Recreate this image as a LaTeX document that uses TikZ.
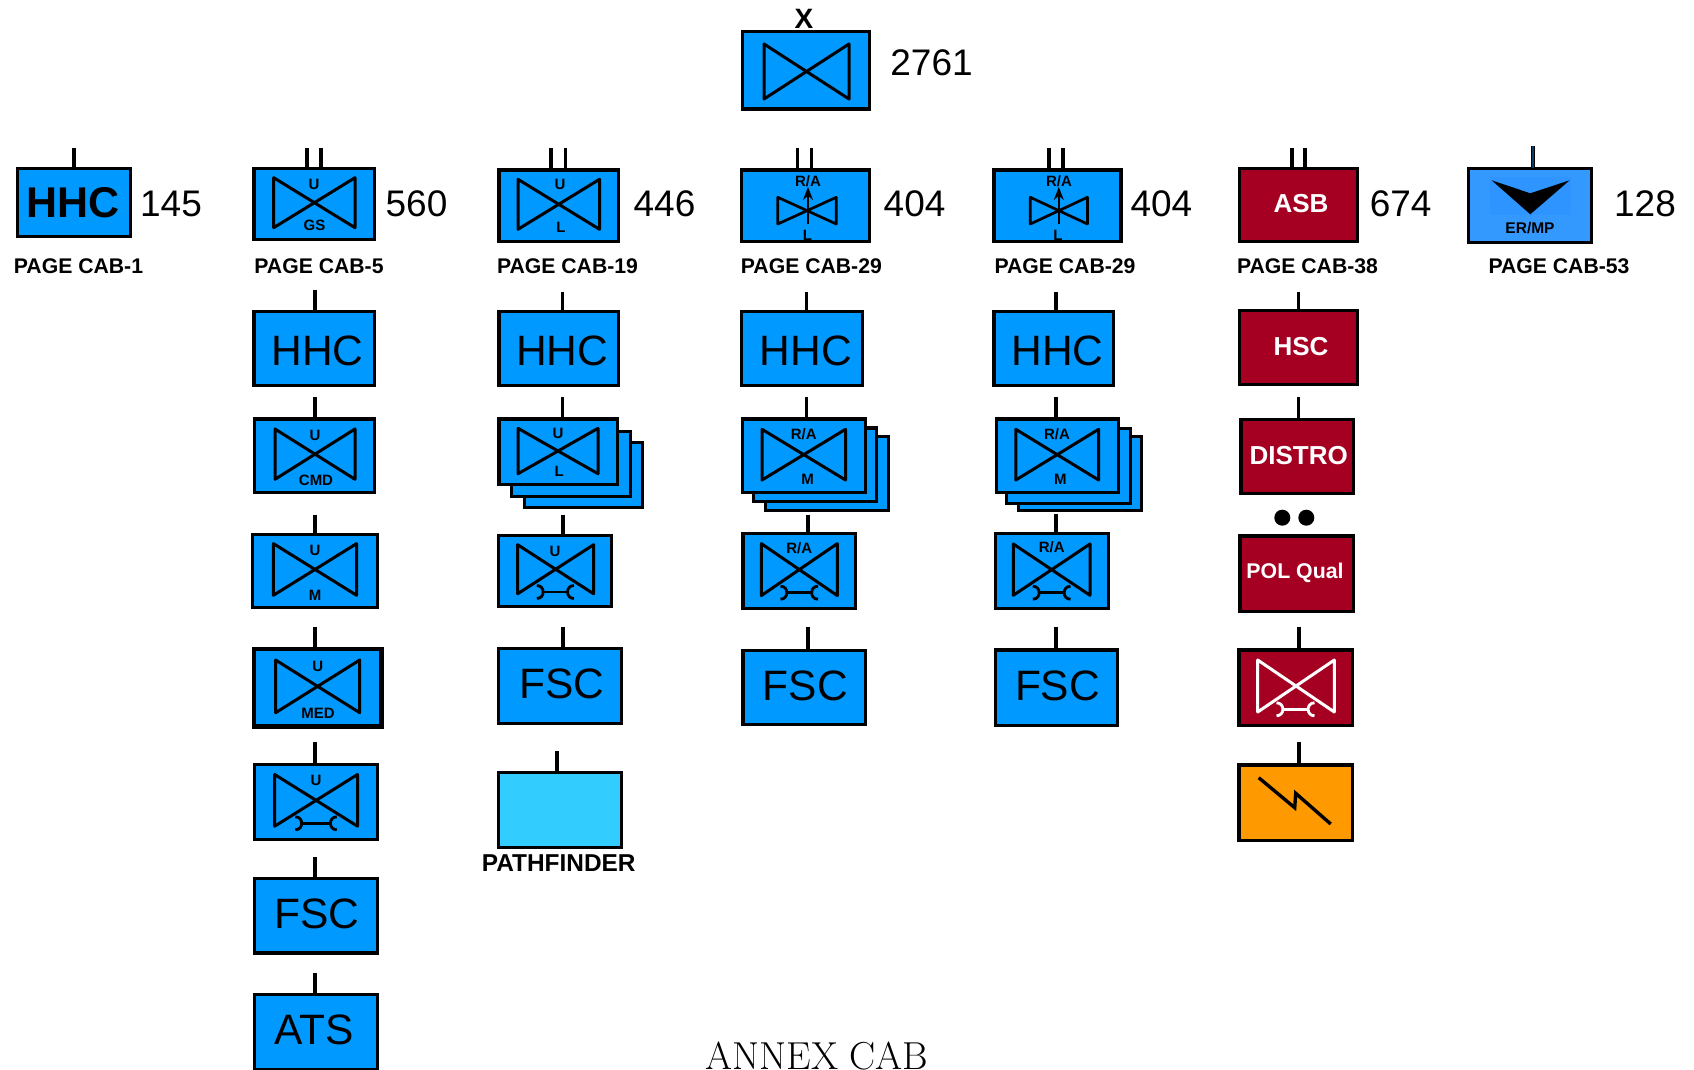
\documentclass[tikz,border=0pt]{standalone}
\usepackage{fontspec}
\setsansfont{Liberation Sans}
\usetikzlibrary{arrows.meta,calc}
\definecolor{ublue}{HTML}{0099FF}
\definecolor{ulight}{HTML}{33CCFF}
\definecolor{ured}{HTML}{A50021}
\definecolor{uorange}{HTML}{FF9900}
\definecolor{uer}{HTML}{3399FF}
\definecolor{uerin}{HTML}{2E94FF}
\definecolor{utick}{HTML}{0F3A66}
\newcount\lblc
\newcommand{\lbl}[3]{\global\advance\lblc by 1\relax\node[txt,#1] (txt\the\lblc) at (#2) {#3};}
% name, style, x1, x2, y1, y2 (outer edges)
\newcommand{\ubox}[6]{%
  \node[ubase,#2,minimum width={(#4)-(#3)-3.2pt},minimum height={(#6)-(#5)+1-3.2pt}] (#1) at ({((#3)+(#4)-0.6)/2},{((#5)+(#6)-1)/2}) {};}
% name, x, ytop, target box
\newcommand{\utick}[4]{%
  \coordinate (#1) at (#2,#3);
  \draw[tick] (#1) -- (#1 |- #4.north);}
% x1,x2,y1,y2
\newcommand{\bow}[5][]{\draw[glyph,#1] (#2,#4) -- (#3,#5) -- (#3,#4) -- (#2,#5) -- cycle;}
% x1,x2,y
\newcommand{\wrench}[4][]{%
  \draw[wr,#1] ({#2+0.5},{#4-6.5}) .. controls ({#2+9},{#4-6.5}) and ({#2+9},{#4+6.5}) .. ({#2+0.5},{#4+6.5});
  \draw[wr,#1] ({#3-0.5},{#4-6.5}) .. controls ({#3-9},{#4-6.5}) and ({#3-9},{#4+6.5}) .. ({#3-0.5},{#4+6.5});
  \draw[wr,#1] ({#2+6.5},#4) -- ({#3-6.5},#4);}
\tikzset{
  ubase/.style={draw=black,line width=3.2pt,inner sep=0pt,outer sep=0pt,rectangle},
  blu/.style={fill=ublue},
  lite/.style={fill=ulight},
  redb/.style={fill=ured},
  orb/.style={fill=uorange},
  erb/.style={fill=uer},
  tick/.style={line width=3.6pt,draw=black},
  glyph/.style={line width=3pt,draw=black,line join=round},
  wr/.style={line width=2.8pt,draw=black},
  txt/.style={inner sep=0pt,outer sep=0pt,anchor=center,text=black},
  big/.style={font=\sffamily\fontsize{42.5}{42.5}\selectfont},
  num/.style={font=\sffamily\fontsize{37}{37}\selectfont},
  page/.style={font=\sffamily\bfseries\fontsize{21.2}{21.2}\selectfont},
  sm/.style={font=\sffamily\bfseries\fontsize{15}{15}\selectfont},
  wht/.style={font=\sffamily\bfseries\fontsize{26}{26}\selectfont,text=white},
}
\begin{document}
\begin{tikzpicture}[x=1pt,y=-1pt]
\useasboundingbox (0,0) rectangle (1694,1070);
\clip (0,0) rectangle (1694,1070);
%% Top
\ubox{top}{blu}{741.5}{871.5}{30.7}{110.7}
\bow{764}{849}{44}{99}
\lbl{font=\sffamily\bfseries\fontsize{28}{28}\selectfont}{804,19}{X}
\lbl{num}{931.5,62.5}{2761}
%% Col 1
\ubox{hq}{blu}{16.3}{132}{167.5}{237.7}
\utick{tq}{73.7}{148}{hq}
\lbl{font=\sffamily\bfseries\fontsize{43}{43}\selectfont}{72.7,203}{HHC}
\lbl{num}{171,204}{145}
\lbl{page}{78.5,266.5}{PAGE CAB-1}
%% Col 2
\ubox{a0}{blu}{252.6}{376}{167.7}{241.3}
\utick{ta0a}{306.8}{148}{a0}\utick{ta0b}{320.9}{148}{a0}
\bow{273.7}{355}{177.7}{227.7}
\lbl{sm}{314,184.5}{U}\lbl{sm}{314.5,225.5}{GS}
\lbl{num}{416.5,204}{560}
\lbl{page}{319,266.5}{PAGE CAB-5}
\ubox{a1}{blu}{252.6}{376}{311}{386.7}
\utick{ta1}{315}{290}{a1}
\lbl{big}{317.5,350.5}{HHC}
\ubox{a2}{blu}{253}{376}{418.3}{493.7}
\utick{ta2}{315}{396.7}{a2}
\bow{275}{355}{429}{479.3}
\lbl{sm}{315,435}{U}\lbl{sm}{316,480.5}{CMD}
\ubox{a3}{blu}{251}{379}{533.5}{609}
\utick{ta3}{315}{514.5}{a3}
\bow{273.4}{356.6}{543.6}{595.3}
\lbl{sm}{315,550}{U}\lbl{sm}{315,595.6}{M}
\ubox{a4}{blu,line width=4.5pt}{252.8}{383.4}{648.4}{728}
\utick{ta4}{315}{627.3}{a4}
\bow{275.6}{359.7}{660}{712.7}
\lbl{sm}{317.7,666.5}{U}\lbl{sm}{318,713.5}{MED}
\ubox{a5}{blu}{253}{379}{763.6}{840.7}
\utick{ta5}{315}{742}{a5}
\bow{274.7}{357.5}{774.5}{826.2}
\lbl{sm}{316,780}{U}
\wrench{294.8}{337.3}{823.3}
\ubox{a6}{blu}{253}{379}{878}{954.5}
\utick{ta6}{315}{857}{a6}
\lbl{big}{317,913.5}{FSC}
\ubox{a7}{blu}{253}{379}{993.8}{1071}
\utick{ta7}{315}{972.7}{a7}
\lbl{big}{314,1029.5}{ATS}
%% Col 3
\ubox{b0}{blu}{497.6}{620.6}{169.3}{243.3}
\utick{tb0a}{551.2}{148}{b0}\utick{tb0b}{565.3}{148}{b0}
\bow{518}{599.5}{179.3}{229.3}
\lbl{sm}{560,184.5}{U}\lbl{sm}{561,227.7}{L}
\lbl{num}{664.5,204}{446}
\lbl{page}{567.5,266.5}{PAGE CAB-19}
\ubox{b1}{blu}{497.6}{620.6}{311}{386.7}
\utick{tb1}{562.6}{291.7}{b1}
\lbl{big}{562.3,350.5}{HHC}
\ubox{b2c}{blu}{523}{644.4}{441.7}{509.3}
\ubox{b2b}{blu}{510}{632}{430.7}{498.3}
\ubox{b2}{blu}{497.6}{619}{418.3}{486}
\utick{tb2}{562.6}{396.7}{b2}
\bow{518}{598}{428.3}{473.7}
\lbl{sm}{558,433.3}{U}\lbl{sm}{559.3,471}{L}
\ubox{b3}{blu}{497.4}{613.7}{534.5}{608.4}
\utick{tb3}{562.7}{514.5}{b3}
\bow{517.6}{593.6}{544.7}{593.8}
\lbl{sm}{555,551.6}{U}
\wrench{536.3}{574.4}{592}
\ubox{b4}{blu}{497.4}{623.6}{647.6}{724.7}
\utick{tb4}{562.7}{627.3}{b4}
\lbl{big}{561.6,684}{FSC}
\ubox{b5}{lite}{497.4}{623.6}{772}{849}
\utick{tb5}{557}{751}{b5}
\lbl{font=\sffamily\bfseries\fontsize{24.4}{24.4}\selectfont}{558.7,863}{PATHFINDER}
%% Col 4
\ubox{c0}{blu}{740.4}{871.5}{169.3}{243.3}
\utick{tc0a}{797.3}{148}{c0}\utick{tc0b}{811.4}{148}{c0}
\bow[line width=2.7pt]{777.8}{836.3}{197.3}{224}
\draw[line width=2pt,-{Stealth[length=13pt,width=10pt]}] (808,224) -- (808,187);
\lbl{sm}{808,181.7}{R/A}\lbl{sm}{807.5,235}{L}
\lbl{num}{914.6,204}{404}
\lbl{page}{811.4,266.5}{PAGE CAB-29}
\ubox{c1}{blu}{740.4}{864.3}{311}{386.7}
\utick{tc1}{806.5}{291.7}{c1}
\lbl{big}{806,350.5}{HHC}
\ubox{c2c}{blu}{764}{890.4}{435.7}{512.3}
\ubox{c2b}{blu}{752.3}{878}{427.3}{503.3}
\ubox{c2}{blu}{741}{867.2}{418.3}{494}
\utick{tc2}{806.5}{396.7}{c2}
\bow{762}{845.5}{429.3}{480}
\lbl{sm}{803.8,434.3}{R/A}\lbl{sm}{807.6,479.3}{M}
\ubox{c3}{blu}{741.6}{857.5}{532.7}{609.8}
\utick{tc3}{807.8}{514.5}{c3}
\bow{761.3}{837.3}{543.6}{595.6}
\lbl{sm}{799.3,548}{R/A}
\wrench{780}{818.5}{592.7}
\ubox{c4}{blu}{741.6}{867.3}{649.8}{726}
\utick{tc4}{807.8}{627.3}{c4}
\lbl{big}{805.4,686}{FSC}
%% Col 5
\ubox{d0}{blu}{992.6}{1122.9}{169.3}{243.3}
\utick{td0a}{1049}{148}{d0}\utick{td0b}{1063}{148}{d0}
\bow[line width=2.7pt]{1030.3}{1087.4}{197.3}{224}
\draw[line width=2pt,-{Stealth[length=13pt,width=10pt]}] (1058.8,224) -- (1058.8,187);
\lbl{sm}{1059,181.7}{R/A}\lbl{sm}{1058,235}{L}
\lbl{num}{1161.4,204}{404}
\lbl{page}{1065,266.5}{PAGE CAB-29}
\ubox{d1}{blu}{992.6}{1115.3}{311}{386.7}
\utick{td1}{1056}{291.7}{d1}
\lbl{big}{1057.6,350.5}{HHC}
\ubox{d2c}{blu}{1017.4}{1143.3}{436}{512.3}
\ubox{d2b}{blu}{1005.5}{1132}{427.7}{505}
\ubox{d2}{blu}{994.8}{1120}{418.3}{494}
\utick{td2}{1056}{396.7}{d2}
\bow{1015.8}{1098.6}{429.3}{480}
\lbl{sm}{1057,434.3}{R/A}\lbl{sm}{1060.4,479.3}{M}
\ubox{d3}{blu}{994}{1110}{532.7}{610}
\utick{td3}{1056}{514}{d3}
\bow{1013.3}{1090}{544}{595.3}
\lbl{sm}{1051.7,547.7}{R/A}
\wrench{1032.3}{1071}{592.7}
\ubox{d4}{blu}{994}{1119.7}{649.3}{726.7}
\utick{td4}{1056}{626.7}{d4}
\lbl{big}{1057.5,686}{FSC}
%% Col 6
\ubox{e0}{redb}{1238}{1359.6}{167.7}{243.3}
\utick{te0a}{1291.9}{148}{e0}\utick{te0b}{1304.8}{148}{e0}
\lbl{wht}{1301,203.5}{ASB}
\lbl{num}{1400.7,204}{674}
\lbl{page}{1307.5,266.5}{PAGE CAB-38}
\ubox{e1}{redb}{1238}{1359.6}{310}{386}
\utick{te1}{1298.3}{291.7}{e1}
\lbl{wht}{1301,346.7}{HSC}
\ubox{e2}{redb}{1239.7}{1355.6}{418.7}{495.3}
\utick{te2}{1298.3}{396.7}{e2}
\lbl{wht}{1298.7,455.7}{DISTRO}
\fill (1282.3,517.7) circle [radius=8];
\fill (1306.3,517.7) circle [radius=8];
\ubox{e3}{redb}{1238.7}{1355.6}{535.3}{612.7}
\lbl{font=\sffamily\bfseries\fontsize{21.3}{21.3}\selectfont,text=white}{1295,572.5}{POL Qual}
\ubox{e4}{redb}{1237.7}{1354.6}{649.3}{726.7}
\utick{te4}{1298.7}{626.7}{e4}
\bow[draw=white]{1257.7}{1334.3}{660}{712}
\wrench[draw=white]{1276}{1315}{709.3}
\ubox{e5}{orb}{1237.7}{1354.6}{764.3}{841.7}
\utick{te5}{1298.7}{742}{e5}
\draw[line width=3.4pt] (1258.7,777.7) -- (1294.7,807.7) -- (1295.7,793.3) -- (1330.7,824);
%% Col 7
\ubox{f0}{erb}{1467.3}{1593.3}{167.7}{244.3}
\utick{tf0}{1533}{146}{f0}
\draw[utick,line width=1.6pt] (tf0) -- (tf0 |- f0.north);
\fill[uerin] (1490,177.3) rectangle (1571,215);
\fill (1491.6,180.3) -- (1530.3,193.3) -- (1569.6,180.3) -- (1530.3,214.3) -- cycle;
\lbl{font=\sffamily\bfseries\fontsize{15.5}{15.5}\selectfont}{1530,228.5}{ER/MP}
\lbl{num}{1645,204}{128}
\lbl{page}{1559,266.5}{PAGE CAB-53}
%% Caption
\node[inner sep=0pt,outer sep=0pt,anchor=base,font=\fontsize{39}{39}\selectfont] (cap) at (817,1069.5) {ANNEX CAB};
\end{tikzpicture}
\end{document}
